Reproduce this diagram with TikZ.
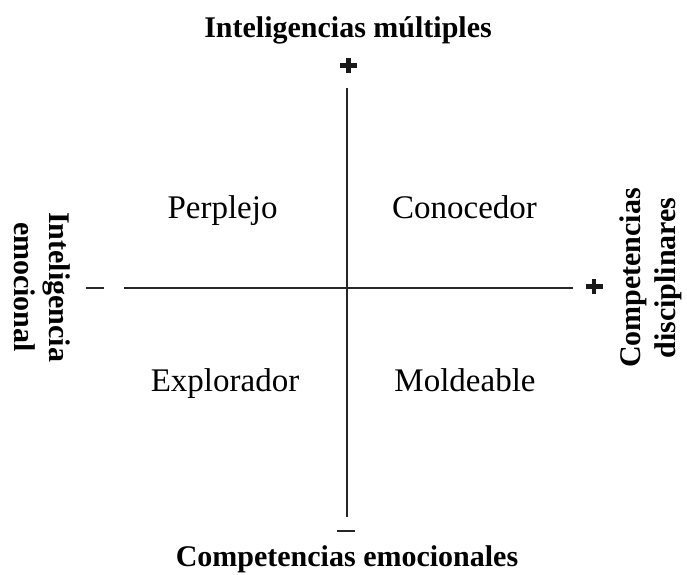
\documentclass[tikz,border=0pt]{standalone}
\usepackage{fontspec}
\setmainfont{Liberation Serif}
\begin{document}
\begin{tikzpicture}[x=1pt,y=-1pt,
  axis/.style={line width=2pt, draw=black!85},
  quad/.style={font=\fontsize{33}{38}\selectfont, anchor=base, inner sep=0pt},
  ttl/.style={font=\fontsize{30}{34.5}\selectfont\bfseries, anchor=base, inner sep=0pt},
  side/.style={font=\fontsize{30}{35}\selectfont\bfseries, align=center, inner sep=0pt},
  plusmark/.style={line width=4.5pt, draw=black!90},
  minusmark/.style={line width=2pt, draw=black!85}]
\useasboundingbox (0,0) rectangle (687,574);
\coordinate (vt) at (347,88);
\coordinate (vb) at (347,517);
\coordinate (hl) at (124,288);
\coordinate (hr) at (573,288);
\draw[axis] (vt) -- (vb);
\draw[axis] (hl) -- (hr);
\node[ttl] (top) at (348,37) {Inteligencias múltiples};
\node[ttl] (bot) at (347,566) {Competencias emocionales};
\node[quad] (q1) at (222.5,218) {Perplejo};
\node[quad] (q2) at (464.5,218) {Conocedor};
\node[quad] (q3) at (225,391) {Explorador};
\node[quad] (q4) at (465,391) {Moldeable};
\node[side, rotate=-90] (left) at (42,287) {Inteligencia\\emocional};
\node[side, rotate=90] (right) at (651,278) {Competencias\\disciplinares};
% plus marks
\coordinate (ptop) at (348.5,65.5);
\draw[plusmark] ([xshift=-8.5pt]ptop) -- ([xshift=8.5pt]ptop);
\draw[plusmark] ([yshift=-7.5pt]ptop) -- ([yshift=7.5pt]ptop);
\coordinate (pright) at (594,286.5);
\draw[plusmark] ([xshift=-8.5pt]pright) -- ([xshift=8.5pt]pright);
\draw[plusmark] ([yshift=-7.5pt]pright) -- ([yshift=7.5pt]pright);
% minus marks
\coordinate (mleft) at (95,288);
\draw[minusmark] ([xshift=-9pt]mleft) -- ([xshift=9pt]mleft);
\coordinate (mbot) at (346,531);
\draw[minusmark] ([xshift=-9pt]mbot) -- ([xshift=9pt]mbot);
\end{tikzpicture}
\end{document}
